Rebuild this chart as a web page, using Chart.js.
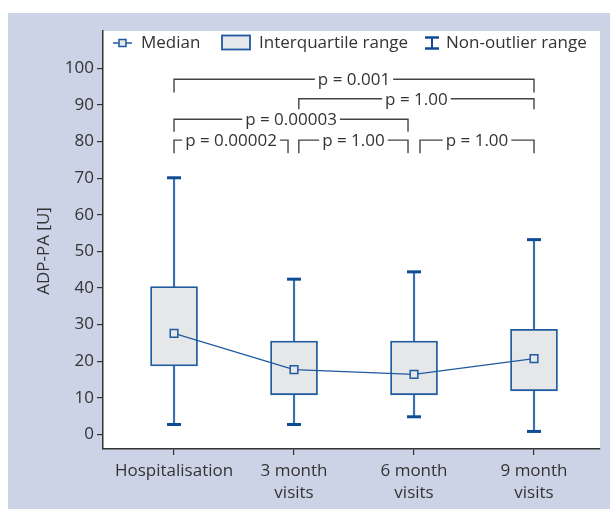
<!DOCTYPE html>
<html>
<head>
<meta charset="utf-8">
<script src="https://cdn.jsdelivr.net/npm/chart.js@4.4.1/dist/chart.umd.min.js"></script>
<style>
  body { margin: 0; background: #fff; }
  #bg { position: absolute; left: 8px; top: 13px; width: 602px; height: 496px; background: #cdd3e7; }
  #wrap { position: absolute; left: 0; top: 0; width: 610px; height: 509px; }
</style>
</head>
<body>
<div id="bg"></div>
<div id="wrap"><canvas id="myChart" width="610" height="509"></canvas></div>
<script>
// data
const categories = ['Hospitalisation', ['3 month', 'visits'], ['6 month', 'visits'], ['9 month', 'visits']];
const whiskerLow  = [2.7, 2.7, 4.8, 0.8];
const q1          = [18.7, 10.8, 10.8, 11.9];
const medians     = [27.6, 17.7, 16.4, 20.7];
const q3          = [40.4, 25.5, 25.5, 28.7];
const whiskerHigh = [70.1, 42.4, 44.4, 53.2];
const yTicks = [0, 10, 20, 30, 40, 50, 60, 70, 80, 90, 100];

// significance brackets: from, to (category position), top, leg end, label
const bracketFrom  = [0, 1.04, 0, 0, 1.04, 2.05];
const bracketTo    = [3, 3, 1.95, 0.95, 1.95, 3];
const bracketTop   = [97, 91.7, 86.1, 80.4, 80.4, 80.4];
const bracketLeg   = [93.4, 88.8, 82.7, 76.8, 76.8, 76.8];
const bracketLabel = ['p = 0.001', 'p = 1.00', 'p = 0.00003', 'p = 0.00002', 'p = 1.00', 'p = 1.00'];

const BLUE = '#1f5aa0';
const WHISK = '#3a70b2';
const DARK = '#0f4c96';
const BOXFILL = '#e6e7e9';
const TXT = '#333';
const FONT = '"Open Sans", "Noto Sans", sans-serif';
const FS = 17;

const idx = categories.map((c, i) => i);

// extra drawing: white plot area, brackets, legend, y title
const decor = {
    id: 'decor',
    beforeDraw(chart) {
        const a = chart.chartArea, ctx = chart.ctx;
        ctx.save();
        ctx.fillStyle = '#fff';
        ctx.fillRect(a.left, a.top, a.right - a.left, a.bottom - a.top);
        ctx.restore();
    },
    afterDraw(chart) {
        const ctx = chart.ctx;
        const xs = chart.scales.x, ys = chart.scales.y;
        ctx.save();
        ctx.font = FS + 'px ' + FONT;
        ctx.fillStyle = TXT;
        ctx.textBaseline = 'middle';

        // brackets
        ctx.strokeStyle = '#444';
        ctx.lineWidth = 1.4;
        bracketLabel.forEach((lab, i) => {
            const x1 = xs.getPixelForValue(bracketFrom[i]);
            const x2 = xs.getPixelForValue(bracketTo[i]);
            const yt = ys.getPixelForValue(bracketTop[i]);
            const yl = ys.getPixelForValue(bracketLeg[i]);
            const w = ctx.measureText(lab).width;
            const cx = (x1 + x2) / 2;
            ctx.beginPath();
            ctx.moveTo(x1, yl); ctx.lineTo(x1, yt); ctx.lineTo(cx - w / 2 - 3, yt);
            ctx.moveTo(cx + w / 2 + 3, yt); ctx.lineTo(x2, yt); ctx.lineTo(x2, yl);
            ctx.stroke();
            ctx.textAlign = 'center';
            ctx.fillText(lab, cx, yt + 1);
        });

        // legend
        const ly = 43;
        ctx.textAlign = 'left';
        ctx.strokeStyle = BLUE;
        ctx.lineWidth = 1.5;
        ctx.beginPath(); ctx.moveTo(113, ly); ctx.lineTo(132, ly); ctx.stroke();
        ctx.fillStyle = BOXFILL;
        ctx.fillRect(119, ly - 3.5, 7, 7);
        ctx.strokeRect(119, ly - 3.5, 7, 7);
        ctx.fillStyle = TXT;
        ctx.fillText('Median', 141, ly);

        ctx.fillStyle = BOXFILL;
        ctx.fillRect(222, 35.5, 28, 14);
        ctx.lineWidth = 1.8;
        ctx.strokeRect(222, 35.5, 28, 14);
        ctx.fillStyle = TXT;
        ctx.fillText('Interquartile range', 259, ly);

        ctx.strokeStyle = DARK;
        ctx.lineWidth = 2.5;
        ctx.beginPath();
        ctx.moveTo(425, 37.5); ctx.lineTo(439, 37.5);
        ctx.moveTo(425, 48.5); ctx.lineTo(439, 48.5);
        ctx.stroke();
        ctx.lineWidth = 2;
        ctx.beginPath(); ctx.moveTo(432, 37.5); ctx.lineTo(432, 48.5); ctx.stroke();
        ctx.fillText('Non-outlier range', 446, ly);

        // y axis title
        ctx.translate(44, 251);
        ctx.rotate(-Math.PI / 2);
        ctx.textAlign = 'center';
        ctx.fillText('ADP-PA [U]', 0, 0);
        ctx.restore();
    }
};

const ctx = document.getElementById('myChart').getContext('2d');
const myChart = new Chart(ctx, {
    type: 'bar',
    data: {
        datasets: [
            {
                // whisker lines (behind the boxes)
                type: 'bar',
                data: idx.map(i => ({ x: i, y: [whiskerLow[i], whiskerHigh[i]] })),
                backgroundColor: WHISK,
                barThickness: 1.5,
                grouped: false,
                order: 4
            },
            {
                // interquartile boxes
                type: 'bar',
                data: idx.map(i => ({ x: i, y: [q1[i], q3[i]] })),
                backgroundColor: BOXFILL,
                borderColor: BLUE,
                borderWidth: 1.8,
                borderSkipped: false,
                barThickness: 47,
                grouped: false,
                order: 3
            },
            {
                // whisker caps
                type: 'scatter',
                data: idx.map(i => ({ x: i, y: whiskerLow[i] })).concat(idx.map(i => ({ x: i, y: whiskerHigh[i] }))),
                pointStyle: 'line',
                pointRadius: 7,
                pointBorderColor: DARK,
                pointBorderWidth: 3,
                borderColor: DARK,
                borderWidth: 3,
                order: 2
            },
            {
                // medians
                type: 'line',
                data: idx.map(i => ({ x: i, y: medians[i] })),
                borderColor: BLUE,
                borderWidth: 1.3,
                tension: 0,
                pointStyle: 'rect',
                pointRadius: 5.4,
                pointBackgroundColor: BOXFILL,
                pointBorderColor: BLUE,
                pointBorderWidth: 1.5,
                order: 1
            }
        ]
    },
    options: {
        responsive: false,
        animation: false,
        layout: { padding: { top: 31, right: 10, left: 0, bottom: 0 } },
        plugins: {
            legend: { display: false },
            tooltip: { enabled: false }
        },
        scales: {
            x: {
                type: 'linear',
                offset: false,
                min: -0.592,
                max: 3.55,
                afterBuildTicks: s => { s.ticks = idx.map(v => ({ value: v })); },
                afterFit: s => { s.height = 60; },
                ticks: {
                    callback: v => categories[v],
                    autoSkip: false,
                    maxRotation: 0,
                    padding: 5,
                    color: TXT,
                    font: { family: FONT, size: FS, lineHeight: 1.3 }
                },
                grid: { offset: false, drawOnChartArea: false, drawTicks: true, tickLength: 6, color: '#333', lineWidth: 1.2 },
                border: { display: true, color: '#333', width: 1.5 }
            },
            y: {
                min: -4,
                max: 110.2,
                afterBuildTicks: s => { s.ticks = yTicks.map(v => ({ value: v })); },
                afterFit: s => { s.width = 103; },
                ticks: {
                    padding: 3,
                    color: TXT,
                    font: { family: FONT, size: FS }
                },
                grid: { drawOnChartArea: false, drawTicks: true, tickLength: 6, color: '#333', lineWidth: 1.2 },
                border: { display: true, color: '#333', width: 1.5 }
            }
        }
    },
    plugins: [decor]
});
</script>
</body>
</html>
